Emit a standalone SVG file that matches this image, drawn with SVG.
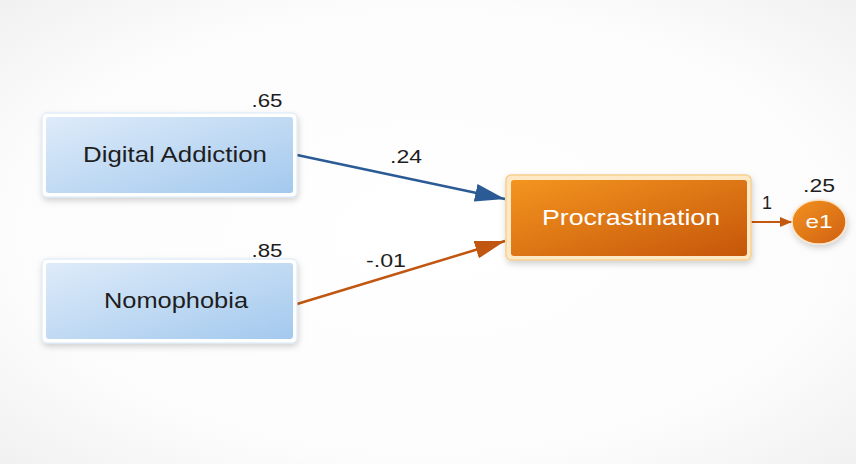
<svg xmlns="http://www.w3.org/2000/svg" width="856" height="464" viewBox="0 0 856 464">
<defs>
<radialGradient id="bg" cx="50%" cy="50%" r="70%">
<stop offset="0" stop-color="#ffffff"/><stop offset="0.7" stop-color="#fcfcfc"/><stop offset="1" stop-color="#f1f1f1"/>
</radialGradient>
<linearGradient id="blue" x1="0" y1="0" x2="1" y2="1">
<stop offset="0" stop-color="#deebf9"/><stop offset="1" stop-color="#a3c9ee"/>
</linearGradient>
<linearGradient id="orange" x1="0" y1="0" x2="1" y2="1">
<stop offset="0" stop-color="#f4951f"/><stop offset="1" stop-color="#c5560a"/>
</linearGradient>
<linearGradient id="eorange" x1="0" y1="0" x2="1" y2="1">
<stop offset="0" stop-color="#f39222"/><stop offset="1" stop-color="#cf600e"/>
</linearGradient>
<filter id="sh" x="-10%" y="-10%" width="130%" height="140%">
<feDropShadow dx="1" dy="3" stdDeviation="3" flood-color="#000" flood-opacity="0.18"/>
</filter>
<marker id="ab" viewBox="0 0 30 18" refX="30" refY="9" markerWidth="30" markerHeight="18" markerUnits="userSpaceOnUse" orient="auto">
<path d="M0,0 L30,9 L0,18 Z" fill="#2b5b95"/>
</marker>
<marker id="ao" viewBox="0 0 30 18" refX="30" refY="9" markerWidth="30" markerHeight="18" markerUnits="userSpaceOnUse" orient="auto">
<path d="M0,0 L30,9 L0,18 Z" fill="#c0560f"/>
</marker>
<marker id="as" viewBox="0 0 12 10" refX="12" refY="5" markerWidth="12" markerHeight="10" markerUnits="userSpaceOnUse" orient="auto">
<path d="M0,0 L12,5 L0,10 Z" fill="#c5580f"/>
</marker>
</defs>
<style>
.lbl{font-family:"Liberation Sans",Arial,sans-serif;font-size:22px;fill:#1e1e1e;text-anchor:middle}
.num{font-family:"Liberation Sans",Arial,sans-serif;font-size:18px;fill:#1e1e1e;text-anchor:middle}
.wt{font-family:"Liberation Sans",Arial,sans-serif;font-size:22px;fill:#ffffff;text-anchor:middle}
.outer{fill:#ffffff;stroke:#d6e6f7;stroke-width:1}
</style>
<rect x="0" y="0" width="856" height="464" fill="url(#bg)"/>
<g id="connectors">
<line x1="297" y1="155" x2="505" y2="199" stroke="#2b5b95" stroke-width="2.5" marker-end="url(#ab)"/>
<line x1="297" y1="304" x2="505" y2="241" stroke="#c0560f" stroke-width="2.5" marker-end="url(#ao)"/>
<line x1="750" y1="222" x2="792" y2="222" stroke="#c5580f" stroke-width="2" marker-end="url(#as)"/>
<text class="num" x="406" y="163" textLength="32" lengthAdjust="spacingAndGlyphs">.24</text>
<text class="num" x="386" y="267" textLength="40" lengthAdjust="spacingAndGlyphs">-.01</text>
<text class="num" x="767" y="209">1</text>
</g>
<g id="digital-addiction">
<rect class="outer" x="42" y="113" width="255" height="84" rx="5" filter="url(#sh)"/>
<rect x="46" y="117" width="247" height="76" rx="3" fill="url(#blue)"/>
<text class="lbl" x="175" y="162" textLength="184" lengthAdjust="spacingAndGlyphs">Digital Addiction</text>
<text class="num" x="267" y="107" textLength="31" lengthAdjust="spacingAndGlyphs">.65</text>
</g>
<g id="nomophobia">
<rect class="outer" x="42" y="259" width="255" height="84" rx="5" filter="url(#sh)"/>
<rect x="46" y="263" width="247" height="76" rx="3" fill="url(#blue)"/>
<text class="lbl" x="176" y="308" textLength="144" lengthAdjust="spacingAndGlyphs">Nomophobia</text>
<text class="num" x="267" y="257" textLength="31" lengthAdjust="spacingAndGlyphs">.85</text>
</g>
<g id="procrastination">
<rect x="506" y="175" width="245" height="85" rx="5" fill="#fde9c6" stroke="#f6cf8e" stroke-width="1.5" filter="url(#sh)"/>
<rect x="511" y="180" width="236" height="76" rx="3" fill="url(#orange)"/>
<text class="wt" x="631" y="225" textLength="178" lengthAdjust="spacingAndGlyphs">Procrastination</text>
</g>
<g id="e1">
<ellipse cx="819" cy="222" rx="27" ry="22" fill="url(#eorange)" stroke="#fbe3c4" stroke-width="1.5" filter="url(#sh)"/>
<text class="wt" x="819" y="228" style="font-size:19px" textLength="27" lengthAdjust="spacingAndGlyphs">e1</text>
<text class="num" x="819" y="192" textLength="32" lengthAdjust="spacingAndGlyphs">.25</text>
</g>
</svg>
